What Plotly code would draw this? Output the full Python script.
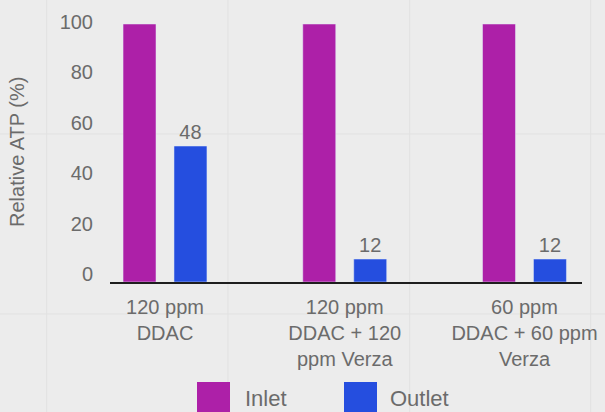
import plotly.graph_objects as go

categories = ["120 ppm<br>DDAC", "120 ppm<br>DDAC + 120<br>ppm Verza", "60 ppm<br>DDAC + 60 ppm<br>Verza"]
inlet = [100, 100, 100]
outlet = [52.7, 8.9, 8.9]
outlet_labels = ["48", "12", "12"]
y_ticks = [0, 20, 40, 60, 80, 100]
series_names = ["Inlet", "Outlet"]

C_IN = "#AD20A8"
C_OUT = "#254EDF"
TXT = "#6b6b6b"
FONT = "Liberation Sans"
BG = "#ececec"

W, H = 605, 412
ML, MR, MT, MB = 110, 23, 20, 130
PW, PH = W - ML - MR, H - MT - MB

def px_x(px):
    return (px - ML) / PW

def px_y(py):
    return (H - MB - py) / PH

fig = go.Figure()
fig.add_trace(go.Bar(x=categories, y=inlet, name=series_names[0], marker_color=C_IN,
                     showlegend=False, hoverinfo="skip"))
fig.add_trace(go.Bar(x=categories, y=outlet, name=series_names[1], marker_color=C_OUT,
                     text=outlet_labels, textposition="outside", cliponaxis=False,
                     textfont=dict(size=20, color=TXT, family=FONT),
                     showlegend=False, hoverinfo="skip"))
# invisible trace for the tick-label axis
fig.add_trace(go.Scatter(x=[categories[0]], y=[0], yaxis="y2", mode="markers",
                         marker=dict(opacity=0), showlegend=False, hoverinfo="skip"))

shapes = []
# faint background grid
for px in [46.7, 228, 409.7, 590.7]:
    shapes.append(dict(type="line", xref="paper", yref="paper", x0=px_x(px), x1=px_x(px),
                       y0=px_y(0), y1=px_y(H), line=dict(color="#e1e1e1", width=1), layer="below"))
for py in [134, 314]:
    shapes.append(dict(type="line", xref="paper", yref="paper", x0=px_x(0), x1=px_x(W),
                       y0=px_y(py), y1=px_y(py), line=dict(color="#e1e1e1", width=1), layer="below"))
# legend boxes
for (x0, x1), col in [((197, 230), C_IN), ((344, 377), C_OUT)]:
    shapes.append(dict(type="rect", xref="paper", yref="paper", x0=px_x(x0), x1=px_x(x1),
                       y0=px_y(382), y1=px_y(415), fillcolor=col, line=dict(width=0)))

annotations = [
    dict(text="Relative ATP (%)", textangle=-90, xref="paper", yref="paper",
         x=px_x(17), y=px_y(152), showarrow=False, xanchor="center", yanchor="middle",
         font=dict(size=20, color=TXT, family=FONT)),
    dict(text=series_names[0], xref="paper", yref="paper", x=px_x(243), y=px_y(398),
         showarrow=False, xanchor="left", yanchor="middle", font=dict(size=22, color=TXT, family=FONT)),
    dict(text=series_names[1], xref="paper", yref="paper", x=px_x(388), y=px_y(398),
         showarrow=False, xanchor="left", yanchor="middle", font=dict(size=22, color=TXT, family=FONT)),
]

fig.update_layout(
    width=W, height=H,
    margin=dict(l=ML, r=MR, t=MT, b=MB, pad=0, autoexpand=False),
    paper_bgcolor=BG, plot_bgcolor=BG,
    barmode="group", bargap=0.433, bargroupgap=0.353,
    showlegend=False,
    font=dict(family=FONT, color=TXT, size=20),
    xaxis=dict(range=[-0.306, 2.32], showgrid=False, zeroline=False, automargin=False,
               showline=True, linecolor="#1e1e1e", linewidth=2,
               ticks="outside", ticklen=6, tickcolor=BG,
               tickfont=dict(size=20, color=TXT, family=FONT)),
    yaxis=dict(range=[0, 101.55], showgrid=False, zeroline=False, showticklabels=False,
               showline=False, automargin=False),
    yaxis2=dict(range=[-3.17, 100.67], overlaying="y", side="left", showgrid=False,
                zeroline=False, showline=False, tickvals=y_ticks, automargin=False,
                ticks="outside", ticklen=12, tickcolor=BG,
                tickfont=dict(size=20, color=TXT, family=FONT)),
    shapes=shapes, annotations=annotations,
)

fig.write_html("out.html", config={"displayModeBar": False},
               post_script="document.body.style.margin='0';document.body.style.background='#ececec';")
